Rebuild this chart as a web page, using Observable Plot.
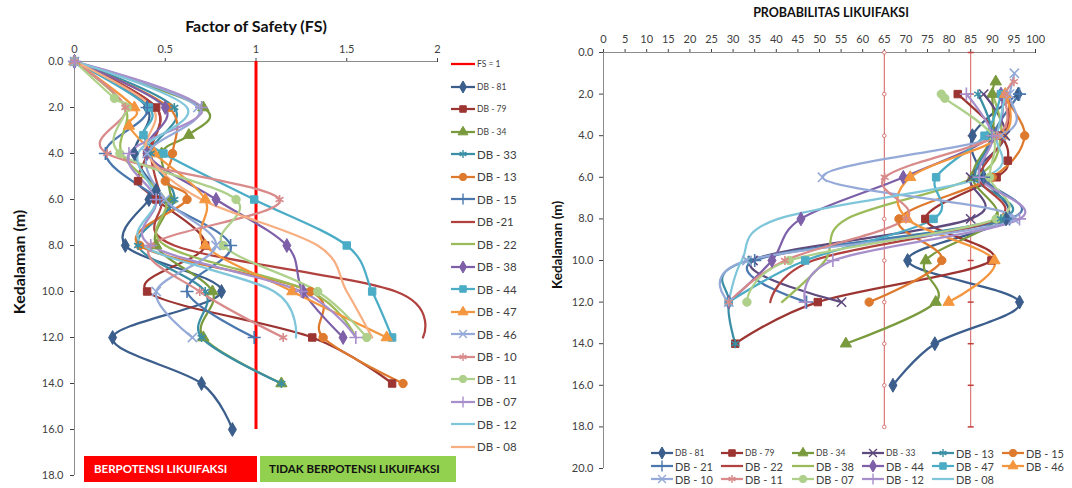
<!DOCTYPE html>
<html><head><meta charset="utf-8">
<script src="https://cdn.jsdelivr.net/npm/d3@7"></script>
<script src="https://cdn.jsdelivr.net/npm/@observablehq/plot@0.6"></script>
<style>
body{margin:0;background:#fff;font-family:Lato,"Open Sans",sans-serif;}
#root{position:relative;width:1072px;height:488px;overflow:hidden;background:#fff}
.abs{position:absolute;white-space:nowrap}
.leg{position:absolute;display:flex;align-items:center;white-space:nowrap;color:#404040}
</style></head><body><div id="root"></div>
<script>
// ---------------- DATA ----------------
// Left panel: Factor of Safety (FS) vs depth (m)
const fsNames = ["DB - 81","DB - 79","DB - 34","DB - 33","DB - 13","DB - 15","DB -21","DB - 22","DB - 38","DB - 44","DB - 47","DB - 46","DB - 10","DB - 11","DB - 07","DB - 12","DB - 08"];
const fsDepth = [
  [0,2,4,5.6,6,8,10,12,14,16],
  [0,2,4,5.2,6,8,10,12,14],
  [0,2,3.2,4,6,8,10,12,14],
  [0,2,4,6,8,10,12,14],
  [0,2,4,5.2,6,8,10,12,14],
  [0,2,4,6,8,10,12],
  [0,2,4,6,8,10,12],
  [0,2,4,6,8,10,12],
  [0,2,4,6,8,10,12],
  [0,2,3.2,4,6,8,10,12],
  [0,2,2.8,4,6,8,10,12],
  [0,2,4,6,8,10,12],
  [0,2,4,6,8,10,12],
  [0,1.6,2,4,6,8,10,12],
  [0,2,4,6,8,10,12],
  [0,2,4,6,8,10,12],
  [0,2,4,6,8,10,12]
];
const fsValue = [
  [0,0.40,0.33,0.45,0.41,0.28,0.81,0.21,0.70,0.87],
  [0,0.45,0.40,0.35,0.45,0.72,0.40,1.31,1.75],
  [0,0.71,0.63,0.48,0.53,0.45,0.76,0.71,1.14],
  [0,0.55,0.42,0.55,0.35,0.72,0.70,1.14],
  [0,0.52,0.54,0.50,0.62,0.36,1.30,1.37,1.81],
  [0,0.40,0.17,0.47,0.86,0.62,0.99],
  [0,0.45,0.42,0.48,0.55,1.77,1.92],
  [0,0.28,0.26,0.50,0.50,1.30,1.55],
  [0,0.50,0.40,0.78,1.17,1.26,1.48],
  [0,0.41,0.38,0.49,0.99,1.50,1.64,1.75],
  [0,0.33,0.30,0.44,0.72,0.72,1.20,1.72],
  [0,0.68,0.40,0.50,0.78,0.45,0.65],
  [0,0.28,0.18,1.13,0.42,0.69,1.15],
  [0,0.22,0.29,0.25,0.89,0.82,1.34,1.61],
  [0,0.70,0.30,0.45,0.42,1.25,1.55],
  [0,0.62,0.35,0.45,0.38,1.10,1.22],
  [0,0.43,0.40,0.70,1.34,1.50,1.64]
];
const fsThreshold = 1;
const fsThresholdDepth = [0, 16];
const fsTicks = [0, 0.5, 1, 1.5, 2];
const fsDepthTicks = [0,2,4,6,8,10,12,14,16,18];

// Right panel: Probabilitas likuifaksi (%) vs depth (m)
const prNames = ["DB - 81","DB - 79","DB - 34","DB - 33","DB - 13","DB - 15","DB - 21","DB - 22","DB - 38","DB - 44","DB - 47","DB - 46","DB - 10","DB - 11","DB - 07","DB - 12","DB - 08"];
const prDepth = [
  [2,4,6,8,10,12,14,16],
  [2,4,5.2,6,8,10,12,14],
  [1.4,2,4,6,8,10,12,14],
  [2,4,6,8,10,12],
  [2,4,6,8,10,12,14],
  [2,4,6,8,10,12],
  [2,4,6,8,10,12],
  [2,4,6,8,10,12],
  [2,4,6,8,10,12],
  [2,4,6,8,10,12],
  [2,4,6,8,10,12],
  [2,4,6,8,10,12],
  [1,2,4,6,8,10,12],
  [1.4,2,4,6,8,10,12],
  [2,2.2,4,6,8,10,12],
  [2,4,6,8,10,12],
  [2,4,6,8,10,12]
];
const prValue = [
  [96,85.4,88,93.2,70.4,96.3,76.7,67],
  [82,92,93.6,91,74.5,89.8,49.6,30.5],
  [90.8,90,90,85.4,91,74.6,76.9,56.1],
  [88,93,85,85,34.6,55.1],
  [86.7,90,86,92,33.5,29,30.5],
  [92,97.5,90,68.4,78.3,61.5],
  [96.3,90,88,94,35,47],
  [94,93,87,91,48.5,38.6],
  [90,92,86,56.3,51.3,41.3],
  [92,90,69.4,45.7,39,29],
  [92,88.2,77,76.4,46.7,29],
  [93,92.5,71,70.3,90.5,79.9],
  [95.1,94,92,50.7,95,33.2,29],
  [95,93,91,65.1,70,42,29],
  [78.2,79,90,89.4,90.9,43,33.2],
  [84,90,87,96.3,53.1,46.7],
  [93,91,88,40.4,32,29]
];
const prRefLevels = [65, 85];
const prRefDepths = [0,2,4,6,8,10,12,14,16,18];
const prTicks = [0,5,10,15,20,25,30,35,40,45,50,55,60,65,70,75,80,85,90,95,100];
const prDepthTicks = [0,2,4,6,8,10,12,14,16,18,20];

// ---------------- STYLES ----------------
const styleColors = ["#3B5E8C","#9C3532","#7A9A3E","#5F4A7E","#3A8FA5","#DE7A2E","#4A78AE","#B0413E","#9BBB59","#7D60A8","#4BACC6","#F4963E","#95AAD8","#D98A8A","#AED08A","#A78FCB","#7FC6DA","#F7AE80"];
const styleSymbols = ["diamond","square","triangle","times","asterisk","circle","plus","none","none","diamond","square","triangle","times","asterisk","circle","plus","none","none"];
const fsStyleIdx = [0,1,2,4,5,6,7,8,9,10,11,12,13,14,15,16,17];
const prStyleIdx = [0,1,2,3,4,5,6,7,8,9,10,11,12,13,14,15,16];
const fsColors = fsStyleIdx.map(i=>styleColors[i]);
const fsSymbols = fsStyleIdx.map(i=>styleSymbols[i]);
const prColors = prStyleIdx.map(i=>styleColors[i]);
const prSymbols = prStyleIdx.map(i=>styleSymbols[i]);
const stroked = new Set(["times","asterisk","plus"]);
const symMap = {diamond:d3.symbolDiamond,square:d3.symbolSquare,triangle:d3.symbolTriangle,times:d3.symbolTimes,asterisk:d3.symbolAsterisk,circle:d3.symbolCircle,plus:d3.symbolPlus};
const FONT = "Lato, 'Open Sans', sans-serif";
const AXIS = "#8c8c8c";
const curve = d3.curveCardinal.tension(0);
const dashSymbol = {draw(ctx, size){const r=Math.sqrt(size/Math.PI); ctx.moveTo(-r,0); ctx.lineTo(r,0);}};

const root = document.getElementById("root");

function rowsOf(names, depths, values, symbols){
  return names.flatMap((s,i)=>depths[i].map((d,j)=>({s, d, v: values[i][j], sym: symbols[i]})));
}
function seriesMarks(rows){
  const dotRows = rows.filter(r=>r.sym!=="none");
  return [
    Plot.line(rows, {x:"v", y:"d", z:"s", stroke:"s", strokeWidth:2.25, curve}),
    Plot.dot(dotRows.filter(r=>!stroked.has(r.sym)), {x:"v", y:"d", symbol:"s", fill:"s", stroke:"s", strokeWidth:1, r:4.2}),
    Plot.dot(dotRows.filter(r=>stroked.has(r.sym)), {x:"v", y:"d", symbol:"s", stroke:"s", strokeWidth:1.6, r:4.3})
  ];
}

// ---------------- LEFT PANEL ----------------
const fsRows = rowsOf(fsNames, fsDepth, fsValue, fsSymbols);
const left = Plot.plot({
  width: 445, height: 488,
  marginLeft: 74, marginRight: 8, marginTop: 61, marginBottom: 13,
  style: {fontFamily: FONT, fontSize: "11px", color: "#404040", background: "transparent", overflow: "visible"},
  x: {domain: [0,2], axis: "top", ticks: fsTicks, tickFormat: d=>String(d), tickSize: 4, tickPadding: 5, label: null},
  y: {domain: [0,18], reverse: true, ticks: fsDepthTicks, tickFormat: d3.format(".1f"), tickSize: 4, tickPadding: 7, label: null},
  color: {domain: fsNames, range: fsColors},
  symbol: {domain: fsNames, range: fsSymbols.map(s=>s==="none"?"circle":s)},
  marks: [
    Plot.ruleX([0], {stroke: AXIS}),
    Plot.ruleY([0], {stroke: AXIS}),
    Plot.ruleX([fsThreshold], {y1: fsThresholdDepth[0], y2: fsThresholdDepth[1], stroke: "#FF0000", strokeWidth: 3}),
    ...seriesMarks(fsRows)
  ]
});
left.style.position = "absolute"; left.style.left = "0px"; left.style.top = "0px";
root.appendChild(left);

// ---------------- RIGHT PANEL ----------------
const prRows = rowsOf(prNames, prDepth, prValue, prSymbols);
const refRows = prRefLevels.flatMap(level => prRefDepths.map(d => ({level, d})));
const right = Plot.plot({
  width: 510, height: 488,
  marginLeft: 63, marginRight: 15, marginTop: 52, marginBottom: 20,
  style: {fontFamily: FONT, fontSize: "11px", color: "#404040", background: "transparent", overflow: "visible"},
  x: {domain: [0,100], axis: "top", ticks: prTicks, tickFormat: d=>String(d), tickSize: 4, tickPadding: 6, label: null},
  y: {domain: [0,20], reverse: true, ticks: prDepthTicks, tickFormat: d3.format(".1f"), tickSize: 4, tickPadding: 6, label: null},
  color: {domain: prNames, range: prColors},
  symbol: {domain: prNames, range: prSymbols.map(s=>s==="none"?"circle":s)},
  marks: [
    Plot.ruleX([0], {stroke: AXIS}),
    Plot.ruleY([0], {stroke: AXIS}),
    Plot.line(refRows, {x:"level", y:"d", z:"level", stroke:"#D0605A", strokeWidth:1}),
    Plot.dot(refRows.filter(r=>r.level===prRefLevels[0]), {x:"level", y:"d", r:1.8, stroke:"#D0605A", fill:"white", strokeWidth:0.8}),
    Plot.dot(refRows.filter(r=>r.level===prRefLevels[1]), {x:"level", y:"d", r:3, symbol: dashSymbol, stroke:"#C0403A", strokeWidth:1.5}),
    ...seriesMarks(prRows)
  ]
});
right.style.position = "absolute"; right.style.left = "540px"; right.style.top = "0px";
root.appendChild(right);

// ---------------- TEXT ----------------
function addText(txt, x, y, css){
  const el = document.createElement("div");
  el.className = "abs"; el.textContent = txt;
  el.style.cssText += `left:${x}px;top:${y}px;` + css;
  root.appendChild(el); return el;
}
addText("Factor of Safety (FS)", 256, 25, "transform:translate(-50%,-50%);font-weight:bold;font-size:16px;color:#111;");
addText("PROBABILITAS LIKUIFAKSI", 831, 12, "transform:translate(-50%,-50%);font-weight:bold;font-size:12.5px;color:#111;");
addText("Kedalaman (m)", 18, 262, "transform:translate(-50%,-50%) rotate(-90deg);font-weight:bold;font-size:16px;color:#111;");
addText("Kedalaman (m)", 557, 245, "transform:translate(-50%,-50%) rotate(-90deg);font-weight:bold;font-size:13.5px;color:#111;");

// Zone boxes below left panel
addText("BERPOTENSI LIKUIFAKSI", 84, 456, "width:173px;height:26px;line-height:26px;background:#FF0000;color:#fff;font-weight:bold;font-size:11.5px;padding-left:10px;box-sizing:border-box;");
addText("TIDAK BERPOTENSI LIKUIFAKSI", 260, 456, "width:196px;height:26px;line-height:26px;background:#92D050;color:#111;font-weight:bold;font-size:11.5px;padding-left:9px;box-sizing:border-box;");

// ---------------- LEGENDS ----------------
function swatch(color, sym, w){
  let s = `<svg width="${w}" height="12" style="overflow:visible;flex:none"><line x1="0" x2="${w}" y1="6" y2="6" stroke="${color}" stroke-width="2.25"/>`;
  if (sym !== "none"){
    const p = d3.symbol(symMap[sym], 42)();
    const st = stroked.has(sym);
    s += `<path transform="translate(${w/2},6)" d="${p}" fill="${st?'none':color}" stroke="${color}" stroke-width="${st?1.4:1}"/>`;
  }
  return s + "</svg>";
}
function addLegend(label, color, sym, x, y, fs, w){
  const el = document.createElement("div");
  el.className = "leg";
  el.style.left = x + "px"; el.style.top = (y - 6) + "px"; el.style.height = "12px";
  el.style.fontSize = fs + "px";
  el.innerHTML = swatch(color, sym, w) + `<span style="margin-left:2px">${label}</span>`;
  root.appendChild(el);
}
// Left legend (vertical)
const leftLegendLabels = ["FS = 1", ...fsNames];
const leftLegendColors = ["#FF0000", ...fsColors];
const leftLegendSymbols = ["none", ...fsSymbols];
leftLegendLabels.forEach((lab, i) => {
  addLegend(lab, leftLegendColors[i], leftLegendSymbols[i], 451, 64 + i*22.5, i < 4 ? 8.5 : 11.5, 24);
});
// Right legend (3 rows x 6 columns)
const colX = [651, 721, 792, 862, 932, 1002];
const rowY = [453, 466, 479];
prNames.forEach((lab, i) => {
  addLegend(lab, prColors[i], prSymbols[i], colX[i%6], rowY[Math.floor(i/6)], i < 4 ? 8.5 : 11, 22);
});
</script>
</body></html>
